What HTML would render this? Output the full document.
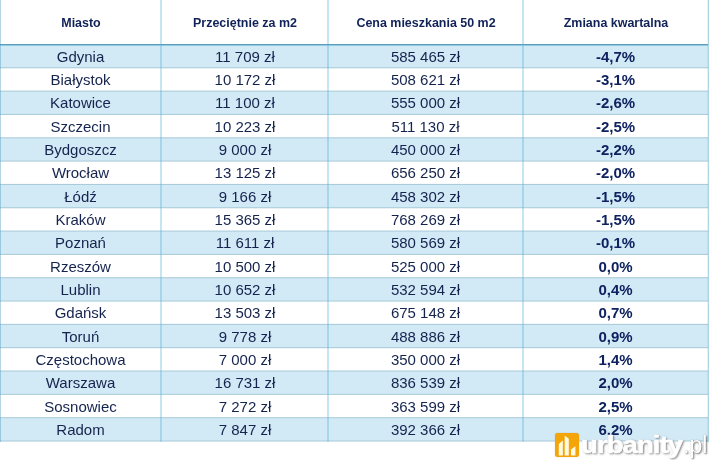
<!DOCTYPE html>
<html><head><meta charset="utf-8"><style>
*{margin:0;padding:0;box-sizing:border-box}
body{will-change:transform}html,body{width:710px;height:460px;background:#fff;overflow:hidden;position:relative;font-family:"Liberation Sans",sans-serif;color:#15244e}
.a{position:absolute}
.t{position:absolute;white-space:nowrap;text-align:center}
.h{font-weight:bold;font-size:13.2px;color:#112258;transform:scaleX(.945)}
.d{font-size:15px}
.b{font-weight:bold;font-size:15px;color:#0e2260}
.vl{position:absolute;top:0;width:2px;background:rgba(80,175,215,.33)}
.hl{position:absolute;left:0;width:708px;height:1px;background:#a9cbd8}
.row{position:absolute;left:0;width:708px;background:#d2e9f6}

.logo{position:absolute;left:555px;top:432.5px;width:24px;height:24.8px;background:#f4a509;border-radius:3px;box-shadow:0 0 1px rgba(150,100,0,.6)}
.wm{position:absolute;top:434px;font-size:23px;line-height:23px;white-space:nowrap;color:#fff;text-shadow:1px 1px 2px rgba(0,0,0,.55),0 0 1px rgba(0,0,0,.3);transform-origin:0 0}
.wm1{left:581px;font-weight:bold;transform:scaleX(1.2);-webkit-text-stroke:0.6px #fff;letter-spacing:-0.8px}
.wm2{left:683px;font-weight:normal}
</style></head><body>
<div class="row" style="top:45.5px;height:22.300px"></div>
<div class="row" style="top:91.125px;height:23.325px"></div>
<div class="row" style="top:137.775px;height:23.325px"></div>
<div class="row" style="top:184.42499999999998px;height:23.325px"></div>
<div class="row" style="top:231.075px;height:23.325px"></div>
<div class="row" style="top:277.725px;height:23.325px"></div>
<div class="row" style="top:324.375px;height:23.325px"></div>
<div class="row" style="top:371.02500000000003px;height:23.325px"></div>
<div class="row" style="top:417.675px;height:23.325px"></div>
<div class="hl" style="top:67px;background:#a6c9d7;opacity:0.70"></div>
<div class="hl" style="top:68px;background:#a6c9d7;opacity:0.30"></div>
<div class="hl" style="top:90px;background:#a6c9d7;opacity:0.38"></div>
<div class="hl" style="top:91px;background:#a6c9d7;opacity:0.62"></div>
<div class="hl" style="top:113px;background:#a6c9d7;opacity:0.05"></div>
<div class="hl" style="top:114px;background:#a6c9d7;opacity:0.95"></div>
<div class="hl" style="top:137px;background:#a6c9d7;opacity:0.72"></div>
<div class="hl" style="top:138px;background:#a6c9d7;opacity:0.28"></div>
<div class="hl" style="top:160px;background:#a6c9d7;opacity:0.40"></div>
<div class="hl" style="top:161px;background:#a6c9d7;opacity:0.60"></div>
<div class="hl" style="top:183px;background:#a6c9d7;opacity:0.08"></div>
<div class="hl" style="top:184px;background:#a6c9d7;opacity:0.92"></div>
<div class="hl" style="top:207px;background:#a6c9d7;opacity:0.75"></div>
<div class="hl" style="top:208px;background:#a6c9d7;opacity:0.25"></div>
<div class="hl" style="top:230px;background:#a6c9d7;opacity:0.43"></div>
<div class="hl" style="top:231px;background:#a6c9d7;opacity:0.57"></div>
<div class="hl" style="top:253px;background:#a6c9d7;opacity:0.10"></div>
<div class="hl" style="top:254px;background:#a6c9d7;opacity:0.90"></div>
<div class="hl" style="top:277px;background:#a6c9d7;opacity:0.77"></div>
<div class="hl" style="top:278px;background:#a6c9d7;opacity:0.23"></div>
<div class="hl" style="top:300px;background:#a6c9d7;opacity:0.45"></div>
<div class="hl" style="top:301px;background:#a6c9d7;opacity:0.55"></div>
<div class="hl" style="top:323px;background:#a6c9d7;opacity:0.12"></div>
<div class="hl" style="top:324px;background:#a6c9d7;opacity:0.88"></div>
<div class="hl" style="top:347px;background:#a6c9d7;opacity:0.80"></div>
<div class="hl" style="top:348px;background:#a6c9d7;opacity:0.20"></div>
<div class="hl" style="top:370px;background:#a6c9d7;opacity:0.47"></div>
<div class="hl" style="top:371px;background:#a6c9d7;opacity:0.53"></div>
<div class="hl" style="top:393px;background:#a6c9d7;opacity:0.15"></div>
<div class="hl" style="top:394px;background:#a6c9d7;opacity:0.85"></div>
<div class="hl" style="top:417px;background:#a6c9d7;opacity:0.82"></div>
<div class="hl" style="top:418px;background:#a6c9d7;opacity:0.18"></div>
<div class="hl" style="top:440px;background:#a6c9d7;opacity:0.50"></div>
<div class="hl" style="top:441px;background:#a6c9d7;opacity:0.50"></div>
<div class="a" style="left:0;top:44px;width:708px;height:1px;background:#5f9cb6"></div>
<div class="a" style="left:0;top:45px;width:708px;height:1px;background:#8fcbe2"></div>
<div class="vl" style="left:160px;height:442px"></div>
<div class="vl" style="left:327px;height:442px"></div>
<div class="vl" style="left:522px;height:442px"></div>
<div class="a" style="left:0;top:0;width:1px;height:442px;background:rgba(70,150,190,.4)"></div>
<div class="a" style="left:708px;top:0;width:1px;height:442px;background:rgba(70,165,200,.45)"></div>
<div class="a" style="left:707px;top:0;width:1px;height:442px;background:rgba(80,175,215,.15)"></div>
<div class="t h" style="left:-19.5px;width:200px;top:14.6px">Miasto</div>
<div class="t h" style="left:145px;width:200px;top:14.6px">Przeciętnie za m2</div>
<div class="t h" style="left:325.5px;width:200px;top:14.6px">Cena mieszkania 50 m2</div>
<div class="t h" style="left:515.5px;width:200px;top:14.6px">Zmiana kwartalna</div>
<div class="t d" style="left:-19.5px;width:200px;top:47.68px">Gdynia</div>
<div class="t d" style="left:145px;width:200px;top:47.68px">11 709 zł</div>
<div class="t d" style="left:325.5px;width:200px;top:47.68px">585 465 zł</div>
<div class="t b" style="left:515.5px;width:200px;top:47.68px">-4,7%</div>
<div class="t d" style="left:-19.5px;width:200px;top:71.00px">Białystok</div>
<div class="t d" style="left:145px;width:200px;top:71.00px">10 172 zł</div>
<div class="t d" style="left:325.5px;width:200px;top:71.00px">508 621 zł</div>
<div class="t b" style="left:515.5px;width:200px;top:71.00px">-3,1%</div>
<div class="t d" style="left:-19.5px;width:200px;top:94.33px">Katowice</div>
<div class="t d" style="left:145px;width:200px;top:94.33px">11 100 zł</div>
<div class="t d" style="left:325.5px;width:200px;top:94.33px">555 000 zł</div>
<div class="t b" style="left:515.5px;width:200px;top:94.33px">-2,6%</div>
<div class="t d" style="left:-19.5px;width:200px;top:117.65px">Szczecin</div>
<div class="t d" style="left:145px;width:200px;top:117.65px">10 223 zł</div>
<div class="t d" style="left:325.5px;width:200px;top:117.65px">511 130 zł</div>
<div class="t b" style="left:515.5px;width:200px;top:117.65px">-2,5%</div>
<div class="t d" style="left:-19.5px;width:200px;top:140.97px">Bydgoszcz</div>
<div class="t d" style="left:145px;width:200px;top:140.97px">9 000 zł</div>
<div class="t d" style="left:325.5px;width:200px;top:140.97px">450 000 zł</div>
<div class="t b" style="left:515.5px;width:200px;top:140.97px">-2,2%</div>
<div class="t d" style="left:-19.5px;width:200px;top:164.30px">Wrocław</div>
<div class="t d" style="left:145px;width:200px;top:164.30px">13 125 zł</div>
<div class="t d" style="left:325.5px;width:200px;top:164.30px">656 250 zł</div>
<div class="t b" style="left:515.5px;width:200px;top:164.30px">-2,0%</div>
<div class="t d" style="left:-19.5px;width:200px;top:187.62px">Łódź</div>
<div class="t d" style="left:145px;width:200px;top:187.62px">9 166 zł</div>
<div class="t d" style="left:325.5px;width:200px;top:187.62px">458 302 zł</div>
<div class="t b" style="left:515.5px;width:200px;top:187.62px">-1,5%</div>
<div class="t d" style="left:-19.5px;width:200px;top:210.95px">Kraków</div>
<div class="t d" style="left:145px;width:200px;top:210.95px">15 365 zł</div>
<div class="t d" style="left:325.5px;width:200px;top:210.95px">768 269 zł</div>
<div class="t b" style="left:515.5px;width:200px;top:210.95px">-1,5%</div>
<div class="t d" style="left:-19.5px;width:200px;top:234.27px">Poznań</div>
<div class="t d" style="left:145px;width:200px;top:234.27px">11 611 zł</div>
<div class="t d" style="left:325.5px;width:200px;top:234.27px">580 569 zł</div>
<div class="t b" style="left:515.5px;width:200px;top:234.27px">-0,1%</div>
<div class="t d" style="left:-19.5px;width:200px;top:257.60px">Rzeszów</div>
<div class="t d" style="left:145px;width:200px;top:257.60px">10 500 zł</div>
<div class="t d" style="left:325.5px;width:200px;top:257.60px">525 000 zł</div>
<div class="t b" style="left:515.5px;width:200px;top:257.60px">0,0%</div>
<div class="t d" style="left:-19.5px;width:200px;top:280.93px">Lublin</div>
<div class="t d" style="left:145px;width:200px;top:280.93px">10 652 zł</div>
<div class="t d" style="left:325.5px;width:200px;top:280.93px">532 594 zł</div>
<div class="t b" style="left:515.5px;width:200px;top:280.93px">0,4%</div>
<div class="t d" style="left:-19.5px;width:200px;top:304.25px">Gdańsk</div>
<div class="t d" style="left:145px;width:200px;top:304.25px">13 503 zł</div>
<div class="t d" style="left:325.5px;width:200px;top:304.25px">675 148 zł</div>
<div class="t b" style="left:515.5px;width:200px;top:304.25px">0,7%</div>
<div class="t d" style="left:-19.5px;width:200px;top:327.57px">Toruń</div>
<div class="t d" style="left:145px;width:200px;top:327.57px">9 778 zł</div>
<div class="t d" style="left:325.5px;width:200px;top:327.57px">488 886 zł</div>
<div class="t b" style="left:515.5px;width:200px;top:327.57px">0,9%</div>
<div class="t d" style="left:-19.5px;width:200px;top:350.90px">Częstochowa</div>
<div class="t d" style="left:145px;width:200px;top:350.90px">7 000 zł</div>
<div class="t d" style="left:325.5px;width:200px;top:350.90px">350 000 zł</div>
<div class="t b" style="left:515.5px;width:200px;top:350.90px">1,4%</div>
<div class="t d" style="left:-19.5px;width:200px;top:374.23px">Warszawa</div>
<div class="t d" style="left:145px;width:200px;top:374.23px">16 731 zł</div>
<div class="t d" style="left:325.5px;width:200px;top:374.23px">836 539 zł</div>
<div class="t b" style="left:515.5px;width:200px;top:374.23px">2,0%</div>
<div class="t d" style="left:-19.5px;width:200px;top:397.55px">Sosnowiec</div>
<div class="t d" style="left:145px;width:200px;top:397.55px">7 272 zł</div>
<div class="t d" style="left:325.5px;width:200px;top:397.55px">363 599 zł</div>
<div class="t b" style="left:515.5px;width:200px;top:397.55px">2,5%</div>
<div class="t d" style="left:-19.5px;width:200px;top:420.88px">Radom</div>
<div class="t d" style="left:145px;width:200px;top:420.88px">7 847 zł</div>
<div class="t d" style="left:325.5px;width:200px;top:420.88px">392 366 zł</div>
<div class="t b" style="left:515.5px;width:200px;top:420.88px">6.2%</div>
<div class="logo"><svg width="25" height="25" viewBox="0 0 25 25" style="position:absolute;left:0;top:0"><path fill="#fffbe0" d="M3.8 11.1 L7.8 7.6 L7.8 22.4 L3.8 22.4 Z M9.7 2.5 L13.8 5.7 L13.8 22.4 L9.7 22.4 Z M16 16.4 L20.4 13.3 L20.4 22.4 L16 22.4 Z"/></svg></div>
<div class="wm wm1">urbanity</div><div class="wm wm2">.pl</div>
</body></html>
